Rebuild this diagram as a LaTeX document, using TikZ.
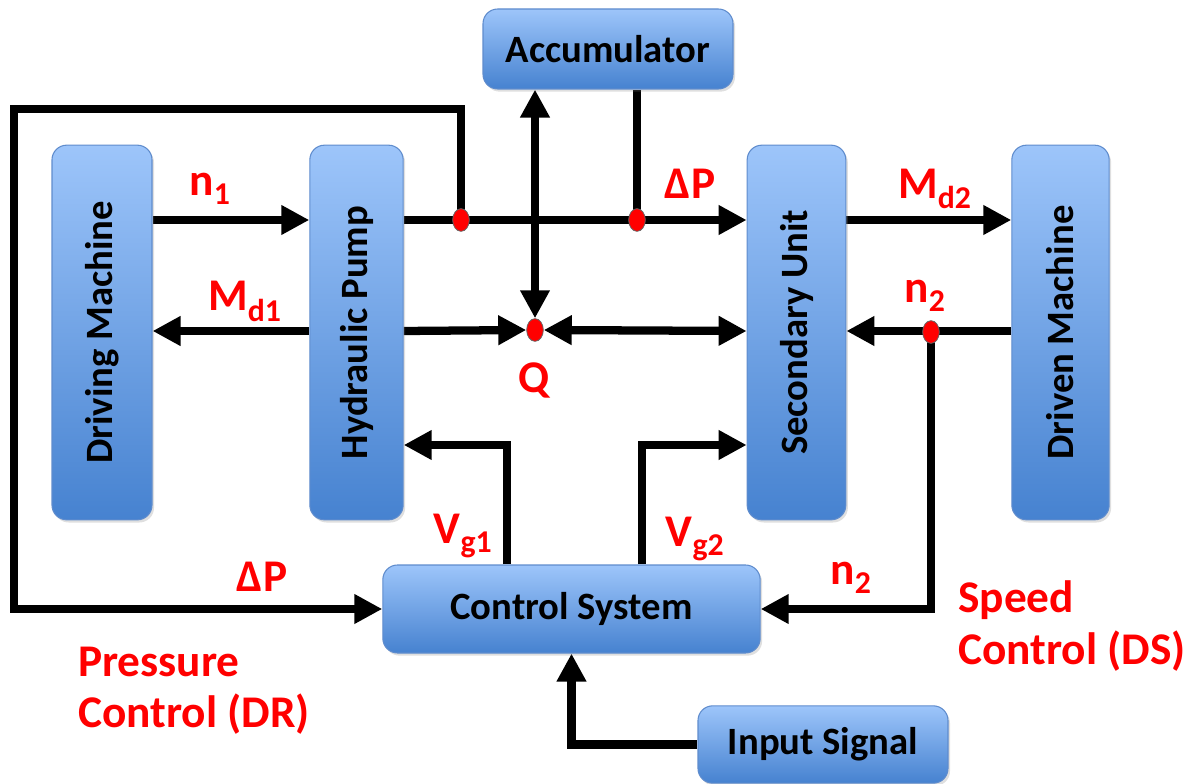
\documentclass[tikz,border=0pt]{standalone}
\usepackage{fontspec}
\setmainfont{Carlito}
\usepackage{graphicx}
\usetikzlibrary{arrows.meta,shapes.geometric,shadows,backgrounds}
\definecolor{boxtop}{RGB}{157,197,250}
\definecolor{boxbot}{RGB}{70,130,208}
\definecolor{boxline}{RGB}{95,140,205}
\begin{document}
\begin{tikzpicture}[x=0.75pt,y=-0.75pt,
  box/.style={draw=boxline, line width=0.8pt, rounded corners=11pt,
    top color=boxtop, bottom color=boxbot, inner sep=0pt,
    font=\fontsize{29}{32}\selectfont\bfseries,
    drop shadow={opacity=0.25, shadow xshift=1.5pt, shadow yshift=-2pt}},
  wire/.style={line width=6.2pt, black},
  arr/.style={wire, -{Triangle[length=21pt,width=21pt]}},
  darr/.style={wire, {Triangle[length=21pt,width=21pt]}-{Triangle[length=21pt,width=21pt]}},
  lab/.style={text=red, font=\fontsize{34}{38}\selectfont\bfseries, inner sep=0pt},
  jdot/.style={ellipse, draw=black!60, fill=red, minimum width=12.5pt, minimum height=17pt, inner sep=0pt, line width=0.6pt}]
\useasboundingbox (0,0) rectangle (1203,784);

% boxes
\node[box, minimum width=75pt, minimum height=281pt] (DM) at (102,332.5) {\rotatebox{90}{Driving Machine}};
\node[box, minimum width=70pt, minimum height=281pt] (HP) at (356.5,332.5) {\rotatebox{90}{Hydraulic Pump}};
\node[box, minimum width=74pt, minimum height=281pt] (SU) at (796.5,332.5) {\rotatebox{90}{Secondary Unit}};
\node[box, minimum width=73pt, minimum height=281pt] (DrM) at (1060.5,332.5) {\rotatebox{90}{Driven Machine}};
\node[box, minimum width=187.5pt, minimum height=60pt] (Acc) at (608,49) {Accumulator};
\node[box, minimum width=283pt, minimum height=66pt] (CS) at (571.5,609) {Control System};
\node[box, minimum width=187.5pt, minimum height=58pt] (IS) at (823,744.5) {Input Signal};

% junction dots
\node[jdot] (D1) at (461,220) {};
\node[jdot] (D2) at (637,220) {};
\node[jdot] (Q) at (535,330) {};
\node[jdot] (D3) at (931,332) {};

% helper coordinates
\coordinate (r1) at (0,220);
\coordinate (r2) at (0,331);
\coordinate (r3) at (0,445);
\coordinate (pl) at (14,109);
\coordinate (v1) at (507,0);
\coordinate (v2) at (642,0);

\begin{pgfonlayer}{background}
\draw[arr] (DM.east |- r1) -- (HP.west |- r1);
\draw[arr] (HP.west |- r2) -- (DM.east |- r2);
\draw[arr] (HP.east |- r1) -- (SU.west |- r1);
\draw[arr] (HP.east |- r2) -- (Q.west);
\draw[darr] (Q.east) -- (SU.west |- r2);
\draw[darr] (Acc.south -| Q) -- (Q.north);
\draw[wire] (Acc.south -| D2) -- (D2.center);
\draw[arr] (D1.center) |- (pl) |- (CS.west);
\draw[arr] (SU.east |- r1) -- (DrM.west |- r1);
\draw[arr] (DrM.west |- r2) -- (SU.east |- r2);
\draw[arr] (D3.center) |- (CS.east);
\draw[arr] (CS.north -| v1) |- (HP.east |- r3);
\draw[arr] (CS.north -| v2) |- (SU.west |- r3);
\draw[arr] (IS.west) -| (CS.south);
\end{pgfonlayer}

% labels
\node[lab] (ln1) at (210,189) {n\textsubscript{1}};
\node[lab] (lmd1) at (245,301) {M\textsubscript{d1}};
\node[lab] (ldp1) at (690,184) {ΔP};
\node[lab] (lq) at (534,380) {Q};
\node[lab] (lmd2) at (935,189) {M\textsubscript{d2}};
\node[lab] (ln2a) at (925,296) {n\textsubscript{2}};
\node[lab] (lvg1) at (463,536) {V\textsubscript{g1}};
\node[lab] (lvg2) at (695,539) {V\textsubscript{g2}};
\node[lab] (ln2b) at (851,578) {n\textsubscript{2}};
\node[lab] (ldp2) at (262,577) {ΔP};
\node[lab, anchor=base west] (sp1) at (958,612) {Speed};
\node[lab, anchor=base west] (sp2) at (958,664) {Control (DS)};
\node[lab, anchor=base west] (pr1) at (78,676) {Pressure};
\node[lab, anchor=base west] (pr2) at (78,727) {Control (DR)};
\end{tikzpicture}
\end{document}
